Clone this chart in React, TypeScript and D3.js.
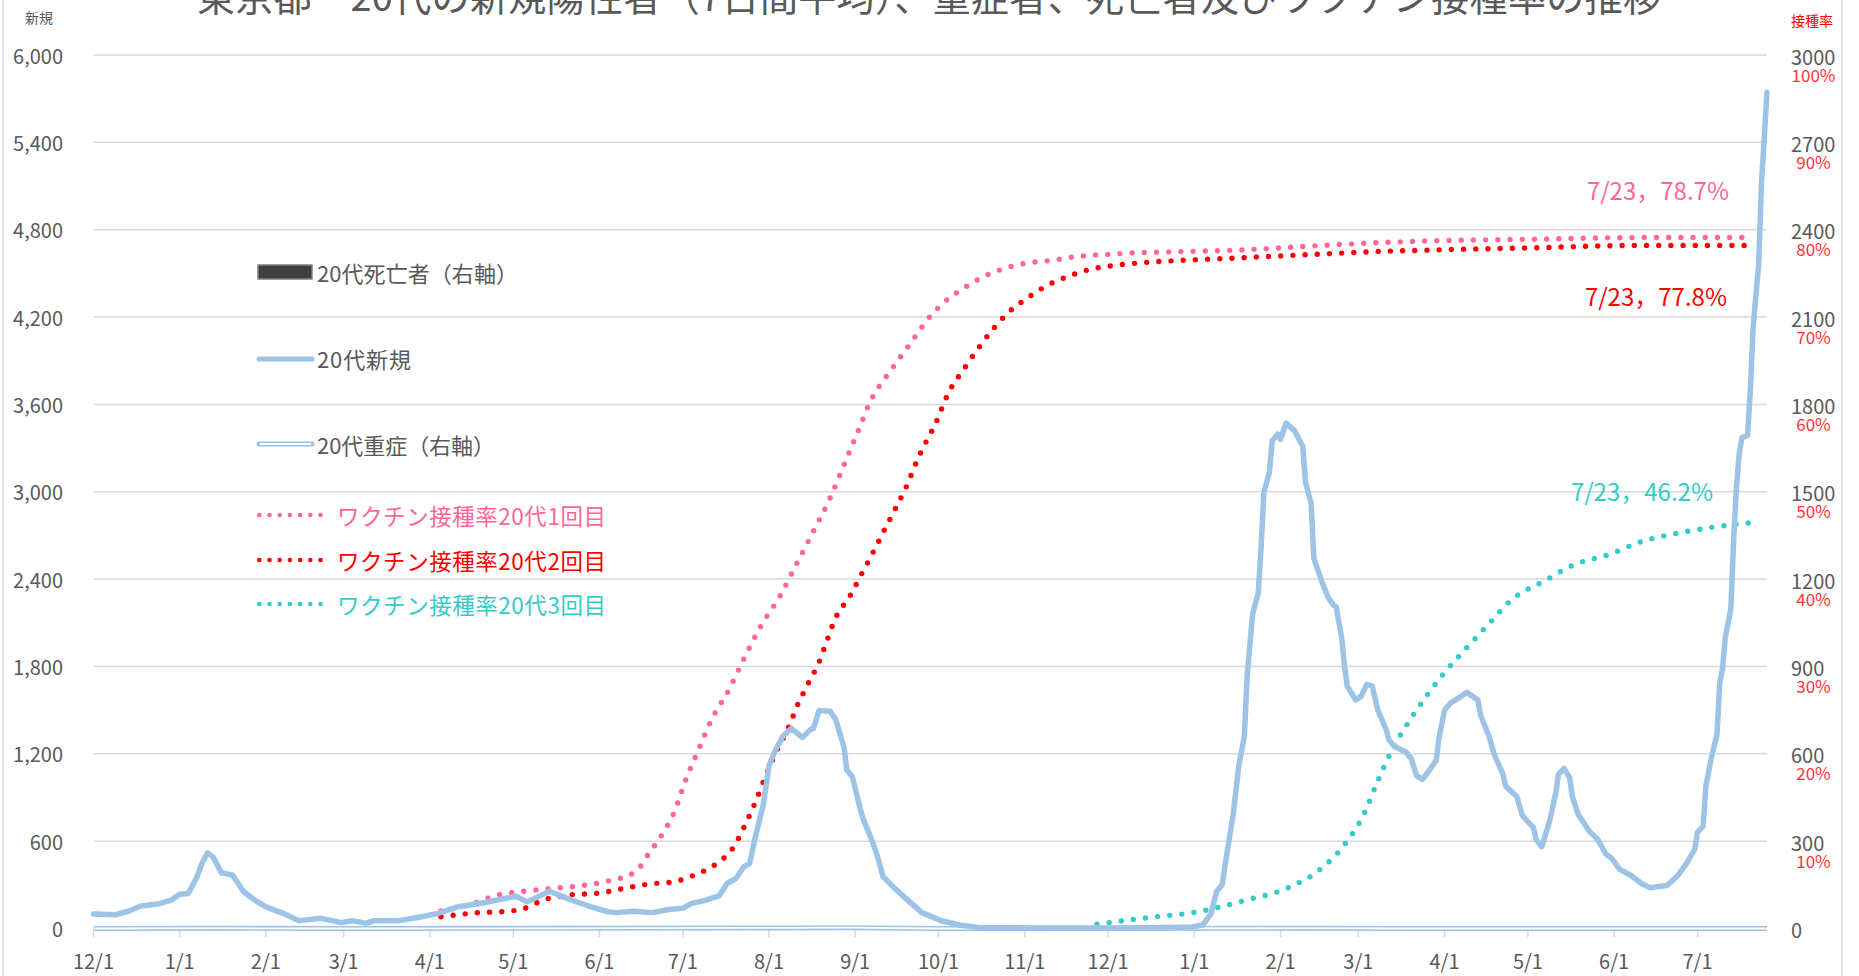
import * as d3 from 'd3';

// 20代 新規陽性者（7日間平均）— left axis
const newCases: [string, number][] = [
  ['2020-12-01', 100], ['2020-12-09', 95], ['2020-12-14', 122], ['2020-12-18', 154],
  ['2020-12-24', 168], ['2020-12-29', 195], ['2021-01-01', 236], ['2021-01-04', 240],
  ['2021-01-07', 343], ['2021-01-09', 446], ['2021-01-11', 519], ['2021-01-13', 492],
  ['2021-01-16', 382], ['2021-01-20', 367], ['2021-01-24', 252], ['2021-01-28', 195],
  ['2021-02-01', 149], ['2021-02-07', 106], ['2021-02-13', 54], ['2021-02-21', 70],
  ['2021-02-28', 40], ['2021-03-04', 54], ['2021-03-09', 35], ['2021-03-12', 54],
  ['2021-03-21', 54], ['2021-03-29', 81], ['2021-04-04', 104], ['2021-04-11', 149],
  ['2021-04-18', 168], ['2021-04-28', 206], ['2021-05-02', 222], ['2021-05-06', 183],
  ['2021-05-11', 229], ['2021-05-14', 256], ['2021-05-22', 195], ['2021-05-29', 149],
  ['2021-06-04', 115], ['2021-06-07', 109], ['2021-06-13', 118], ['2021-06-20', 109],
  ['2021-06-26', 131], ['2021-07-01', 140], ['2021-07-04', 171], ['2021-07-09', 193],
  ['2021-07-14', 224], ['2021-07-17', 311], ['2021-07-20', 342], ['2021-07-23', 426],
  ['2021-07-25', 445], ['2021-07-27', 622], ['2021-07-30', 855], ['2021-08-01', 1119],
  ['2021-08-03', 1212], ['2021-08-06', 1321], ['2021-08-09', 1374], ['2021-08-13', 1312],
  ['2021-08-16', 1368], ['2021-08-17', 1374], ['2021-08-19', 1498], ['2021-08-23', 1492],
  ['2021-08-25', 1436], ['2021-08-28', 1243], ['2021-08-29', 1088], ['2021-08-31', 1041],
  ['2021-09-03', 808], ['2021-09-04', 746], ['2021-09-07', 606], ['2021-09-09', 497],
  ['2021-09-11', 357], ['2021-09-15', 280], ['2021-09-20', 193], ['2021-09-25', 109],
  ['2021-10-02', 53], ['2021-10-09', 22], ['2021-10-16', 6], ['2021-11-06', 4],
  ['2021-12-01', 4], ['2021-12-16', 5], ['2021-12-31', 10], ['2022-01-04', 24],
  ['2022-01-07', 100], ['2022-01-09', 254], ['2022-01-11', 301], ['2022-01-13', 550],
  ['2022-01-15', 787], ['2022-01-17', 1119], ['2022-01-19', 1321], ['2022-01-20', 1736],
  ['2022-01-22', 2163], ['2022-01-24', 2305], ['2022-01-25', 2613], ['2022-01-26', 2993],
  ['2022-01-28', 3135], ['2022-01-29', 3349], ['2022-01-31', 3396], ['2022-02-01', 3360],
  ['2022-02-03', 3472], ['2022-02-06', 3420], ['2022-02-09', 3313], ['2022-02-10', 3064],
  ['2022-02-12', 2922], ['2022-02-13', 2542], ['2022-02-16', 2376], ['2022-02-18', 2281],
  ['2022-02-20', 2222], ['2022-02-21', 2210], ['2022-02-23', 1997], ['2022-02-24', 1807],
  ['2022-02-25', 1665], ['2022-02-28', 1570], ['2022-03-02', 1594], ['2022-03-04', 1677],
  ['2022-03-06', 1665], ['2022-03-08', 1499], ['2022-03-11', 1368], ['2022-03-12', 1297],
  ['2022-03-14', 1250], ['2022-03-18', 1214], ['2022-03-20', 1167], ['2022-03-22', 1048],
  ['2022-03-24', 1024], ['2022-03-26', 1072], ['2022-03-29', 1155], ['2022-03-30', 1309],
  ['2022-04-01', 1499], ['2022-04-03', 1546], ['2022-04-06', 1582], ['2022-04-09', 1622],
  ['2022-04-13', 1570], ['2022-04-14', 1463], ['2022-04-17', 1321], ['2022-04-19', 1190],
  ['2022-04-22', 1060], ['2022-04-23', 977], ['2022-04-27', 906], ['2022-04-29', 775],
  ['2022-05-03', 692], ['2022-05-04', 609], ['2022-05-06', 562], ['2022-05-09', 752],
  ['2022-05-11', 930], ['2022-05-12', 1060], ['2022-05-14', 1100], ['2022-05-16', 1036],
  ['2022-05-17', 906], ['2022-05-19', 787], ['2022-05-23', 670], ['2022-05-26', 615],
  ['2022-05-29', 512], ['2022-05-31', 485], ['2022-06-03', 406], ['2022-06-07', 366],
  ['2022-06-11', 307], ['2022-06-14', 280], ['2022-06-17', 288], ['2022-06-20', 295],
  ['2022-06-24', 366], ['2022-06-27', 445], ['2022-06-30', 544], ['2022-07-01', 662],
  ['2022-07-03', 701], ['2022-07-04', 977], ['2022-07-06', 1174], ['2022-07-08', 1332],
  ['2022-07-09', 1686], ['2022-07-10', 1785], ['2022-07-11', 2001], ['2022-07-13', 2198],
  ['2022-07-14', 2671], ['2022-07-15', 3026], ['2022-07-16', 3262], ['2022-07-17', 3372],
  ['2022-07-19', 3388], ['2022-07-20', 3695], ['2022-07-21', 4129], ['2022-07-23', 4562],
  ['2022-07-24', 5114], ['2022-07-26', 5744],
];

// 20代 重症者（右軸）
const severe: [string, number][] = [
  ['2020-12-01', 0], ['2021-01-15', 1], ['2021-03-01', 0], ['2021-08-10', 2],
  ['2021-08-28', 3], ['2021-10-01', 0], ['2022-02-10', 1], ['2022-03-20', 0],
  ['2022-07-26', 0],
];

// 20代 死亡者（右軸）— none visible at this scale
const deaths: [string, number][] = [];

// ワクチン接種率 (%)
const dose1: [string, number][] = [
  ['2021-04-05', 2.0], ['2021-04-17', 2.9], ['2021-04-25', 3.8], ['2021-05-03', 4.2],
  ['2021-05-16', 4.6], ['2021-06-02', 5.3], ['2021-06-14', 6.5], ['2021-06-19', 8.7],
  ['2021-06-24', 11.0], ['2021-06-28', 13.4], ['2021-07-02', 17.0], ['2021-07-06', 20.0],
  ['2021-07-11', 23.7], ['2021-07-18', 27.6], ['2021-07-23', 30.9], ['2021-07-29', 34.6],
  ['2021-08-05', 38.1], ['2021-08-11', 41.8], ['2021-08-17', 45.5], ['2021-08-23', 49.3],
  ['2021-08-28', 53.1], ['2021-09-02', 56.9], ['2021-09-07', 60.7], ['2021-09-12', 63.1],
  ['2021-09-17', 65.3], ['2021-09-22', 67.5], ['2021-09-27', 69.7], ['2021-10-03', 71.7],
  ['2021-10-10', 73.3], ['2021-10-17', 74.6], ['2021-10-25', 75.6], ['2021-11-02', 76.2],
  ['2021-11-11', 76.5], ['2021-11-19', 76.9], ['2021-12-02', 77.2], ['2022-01-19', 77.7],
  ['2022-02-28', 78.4], ['2022-03-25', 78.7], ['2022-04-30', 78.9], ['2022-06-13', 79.1],
  ['2022-07-21', 79.1],
];

const dose2: [string, number][] = [
  ['2021-04-05', 1.35], ['2021-04-18', 1.8], ['2021-04-30', 2.0], ['2021-05-05', 2.3],
  ['2021-05-12', 3.3], ['2021-05-20', 3.8], ['2021-06-02', 4.1], ['2021-06-10', 4.6],
  ['2021-06-19', 5.1], ['2021-06-27', 5.3], ['2021-07-05', 6.1], ['2021-07-13', 7.4],
  ['2021-07-19', 9.2], ['2021-07-23', 11.6], ['2021-07-27', 14.4], ['2021-07-31', 17.6],
  ['2021-08-04', 20.5], ['2021-08-08', 23.0], ['2021-08-11', 25.4], ['2021-08-15', 28.0],
  ['2021-08-19', 30.5], ['2021-08-22', 33.1], ['2021-08-25', 35.6], ['2021-08-30', 38.0],
  ['2021-09-03', 40.4], ['2021-09-07', 42.8], ['2021-09-11', 45.3], ['2021-09-15', 47.8],
  ['2021-09-19', 50.3], ['2021-09-24', 54.1], ['2021-09-30', 57.9], ['2021-10-05', 61.6],
  ['2021-10-10', 64.0], ['2021-10-15', 66.3], ['2021-10-20', 68.4], ['2021-10-26', 70.5],
  ['2021-11-02', 72.2], ['2021-11-09', 73.6], ['2021-11-17', 74.7], ['2021-11-25', 75.5],
  ['2021-12-03', 75.9], ['2022-01-19', 76.8], ['2022-02-15', 77.2], ['2022-03-08', 77.5],
  ['2022-03-31', 77.7], ['2022-04-30', 77.9], ['2022-06-09', 78.2], ['2022-07-21', 78.2],
];

const dose3: [string, number][] = [
  ['2021-11-27', 0.5], ['2021-12-17', 1.3], ['2022-01-02', 1.9], ['2022-01-19', 3.2],
  ['2022-02-04', 4.7], ['2022-02-15', 6.7], ['2022-02-24', 9.6], ['2022-03-03', 13.1],
  ['2022-03-08', 16.9], ['2022-03-13', 20.4], ['2022-03-19', 23.6], ['2022-03-25', 26.4],
  ['2022-03-31', 28.9], ['2022-04-08', 31.8], ['2022-04-17', 34.9], ['2022-04-25', 37.6],
  ['2022-05-07', 39.8], ['2022-05-18', 41.7], ['2022-05-30', 42.8], ['2022-06-10', 44.2],
  ['2022-06-28', 45.5], ['2022-07-21', 46.5],
];

const leftTicks = [0, 600, 1200, 1800, 2400, 3000, 3600, 4200, 4800, 5400, 6000];
const rightTicks = [0, 300, 600, 900, 1200, 1500, 1800, 2100, 2400, 2700, 3000];
const pctLabels = ['', '10%', '20%', '30%', '40%', '50%', '60%', '70%', '80%', '90%', '100%'];
const monthTicks = [
  '2020-12-01', '2021-01-01', '2021-02-01', '2021-03-01', '2021-04-01', '2021-05-01',
  '2021-06-01', '2021-07-01', '2021-08-01', '2021-09-01', '2021-10-01', '2021-11-01',
  '2021-12-01', '2022-01-01', '2022-02-01', '2022-03-01', '2022-04-01', '2022-05-01',
  '2022-06-01', '2022-07-01',
];

const TITLE = '東京都　20代の新規陽性者（7日間平均）、重症者、死亡者及びワクチン接種率の推移';
const FONT = '"Noto Sans CJK JP", "Noto Sans", sans-serif';
const GRID = '#d9d9d9';
const TEXT = '#595959';
const BLUE = '#9dc3e6';
const PINK = '#ff6699';
const RED = '#ff0000';
const TEAL = '#33cccc';

const parse = d3.utcParse('%Y-%m-%d');
const fmtMonth = d3.utcFormat('%-m/%-d');

export default function App() {
  const W = 1859;
  const H = 976;

  const x = d3
    .scaleUtc()
    .domain([parse('2020-12-01')!, parse('2022-07-26')!])
    .range([93.5, 1767]);
  const yL = d3.scaleLinear().domain([0, 6000]).range([928.5, 55]);
  const yR = d3.scaleLinear().domain([0, 3000]).range([928.5, 55]);

  const blueLine = d3
    .line<[string, number]>()
    .x((d) => x(parse(d[0])!))
    .y((d) => yL(d[1]));
  const rightLine = d3
    .line<[string, number]>()
    .x((d) => x(parse(d[0])!))
    .y((d) => yR(d[1]));
  // percent -> right axis (100% = 3000)
  const pctLine = d3
    .line<[string, number]>()
    .x((d) => x(parse(d[0])!))
    .y((d) => yR(d[1] * 30))
    .curve(d3.curveMonotoneX);

  const [x0, x1] = x.range();

  const vaccines = [
    { data: dose1, color: PINK, label: 'ワクチン接種率20代1回目', ly: 515 },
    { data: dose2, color: RED, label: 'ワクチン接種率20代2回目', ly: 560 },
    { data: dose3, color: TEAL, label: 'ワクチン接種率20代3回目', ly: 604 },
  ];

  return (
    <svg
      width={W}
      height={H}
      style={{ position: 'absolute', left: 0, top: 0, background: '#fff' }}
      fontFamily={FONT}
    >
      {/* chart border */}
      <rect x={3} y={-10} width={1839} height={H + 20} fill="#fff" stroke={GRID} strokeWidth={1.5} />

      {/* title (cut at the top of the frame) */}
      <text x={929} y={11} textAnchor="middle" fontSize={38} fill={TEXT} textLength={1464}>
        {TITLE}
      </text>

      <text x={39} y={17} textAnchor="middle" dominantBaseline="central" fontSize={14} fill={TEXT}>
        新規
      </text>
      <text x={1812} y={20} textAnchor="middle" dominantBaseline="central" fontSize={14} fill={RED}>
        接種率
      </text>

      {/* gridlines + left axis */}
      {leftTicks.map((t) => (
        <g key={`l-${t}`}>
          <line x1={x0} x2={x1} y1={yL(t)} y2={yL(t)} stroke={GRID} strokeWidth={1.5} />
          <text
            x={63}
            y={yL(t)}
            textAnchor="end"
            dominantBaseline="central"
            fontSize={20}
            fill={TEXT}
          >
            {d3.format(',')(t)}
          </text>
        </g>
      ))}

      {/* right axis */}
      {rightTicks.map((t, i) => (
        <g key={`r-${t}`}>
          <text x={1791} y={yR(t) + 1} dominantBaseline="central" fontSize={20} fill={TEXT}>
            {t}
          </text>
          {pctLabels[i] && (
            <text
              x={1813.5}
              y={yR(t) + 19}
              textAnchor="middle"
              dominantBaseline="central"
              fontSize={17}
              fill="#ff3333"
            >
              {pctLabels[i]}
            </text>
          )}
        </g>
      ))}

      {/* x axis */}
      {monthTicks.map((m) => {
        const px = x(parse(m)!);
        return (
          <g key={m}>
            <line x1={px} x2={px} y1={928.5} y2={937} stroke={GRID} strokeWidth={1.5} />
            <text x={px} y={969} textAnchor="middle" fontSize={20} fill={TEXT}>
              {fmtMonth(parse(m)!)}
            </text>
          </g>
        );
      })}

      {/* deaths bars (right axis) */}
      {deaths.map((d) => (
        <rect
          key={d[0]}
          x={x(parse(d[0])!) - 1}
          width={2}
          y={yR(d[1])}
          height={yR(0) - yR(d[1])}
          fill="#404040"
        />
      ))}

      {/* severe (right axis), double line */}
      <path d={rightLine(severe) ?? undefined} fill="none" stroke={BLUE} strokeWidth={5} />
      <path d={rightLine(severe) ?? undefined} fill="none" stroke="#fff" strokeWidth={1.8} />

      {/* vaccination rates */}
      {vaccines.map((v) => (
        <path
          key={v.label}
          d={pctLine(v.data) ?? undefined}
          fill="none"
          stroke={v.color}
          strokeWidth={5.4}
          strokeLinecap="round"
          strokeDasharray="0 12.2"
        />
      ))}

      {/* new cases */}
      <path
        d={blueLine(newCases) ?? undefined}
        fill="none"
        stroke={BLUE}
        strokeWidth={5.5}
        strokeLinejoin="round"
        strokeLinecap="round"
      />

      {/* end-of-series annotations */}
      <text x={1729} y={200} textAnchor="end" fontSize={24} fill={PINK}>
        7/23，78.7%
      </text>
      <text x={1727} y={306} textAnchor="end" fontSize={24} fill={RED}>
        7/23，77.8%
      </text>
      <text x={1713} y={501} textAnchor="end" fontSize={24} fill={TEAL}>
        7/23，46.2%
      </text>

      {/* legend */}
      <g>
        <rect x={258} y={265} width={54} height={14} fill="#404040" stroke="#7f7f7f" strokeWidth={1.5} />
        <text x={317} y={272} dominantBaseline="central" fontSize={22} fill={TEXT} textLength={201}>
          20代死亡者（右軸）
        </text>

        <line x1={259} x2={312} y1={359} y2={359} stroke={BLUE} strokeWidth={5} strokeLinecap="round" />
        <text x={317} y={358} dominantBaseline="central" fontSize={22} fill={TEXT} textLength={94}>
          20代新規
        </text>

        <line x1={259} x2={312} y1={444} y2={444} stroke={BLUE} strokeWidth={5} strokeLinecap="round" />
        <line x1={260} x2={311} y1={444} y2={444} stroke="#fff" strokeWidth={2} />
        <text x={317} y={444} dominantBaseline="central" fontSize={22} fill={TEXT} textLength={178}>
          20代重症（右軸）
        </text>

        {vaccines.map((v) => (
          <g key={`lg-${v.label}`}>
            <line
              x1={259.3}
              x2={321}
              y1={v.ly}
              y2={v.ly}
              stroke={v.color}
              strokeWidth={4.6}
              strokeLinecap="round"
              strokeDasharray="0 10.2"
            />
            <text
              x={337}
              y={v.ly}
              dominantBaseline="central"
              fontSize={22.5}
              fill={v.color}
              textLength={269}
            >
              {v.label}
            </text>
          </g>
        ))}
      </g>
    </svg>
  );
}
